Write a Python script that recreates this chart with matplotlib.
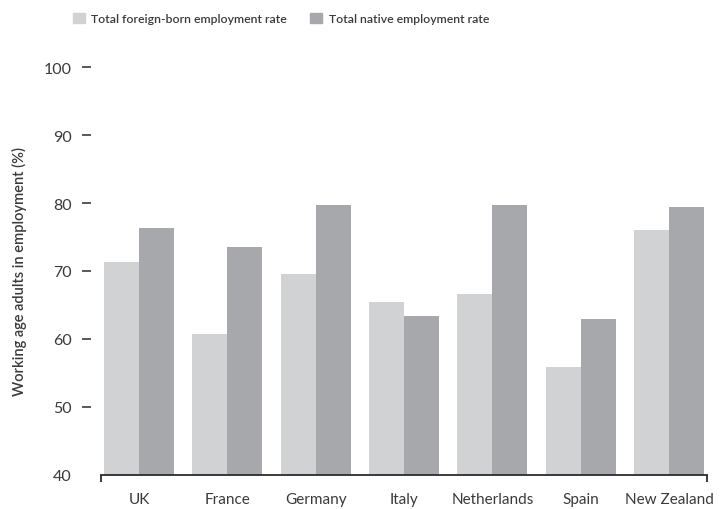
import matplotlib.pyplot as plt
import numpy as np
from matplotlib.patches import Patch

plt.rcParams['font.family'] = ['Lato', 'DejaVu Sans']

# employment rates, working age adults (%)
countries = ["UK", "France", "Germany", "Italy", "Netherlands", "Spain", "New Zealand"]
foreign_born = [71.3, 60.7, 69.5, 65.5, 66.6, 55.9, 76.0]
native = [76.3, 73.5, 79.7, 63.4, 79.7, 62.9, 79.4]
yticks = [40, 50, 60, 70, 80, 90, 100]

c_foreign = "#d1d2d4"
c_native = "#a7a8ab"
c_text = "#3a3a3a"

fig = plt.figure(figsize=(7.24, 5.10), dpi=100)
ax = fig.add_axes([101/724, 34/510, 606/724, 408/510])

x = np.arange(len(countries))
w = 0.396
ax.bar(x - w/2, foreign_born, w, bottom=0, color=c_foreign, linewidth=0)
ax.bar(x + w/2, native, w, bottom=0, color=c_native, linewidth=0)

ax.set_ylim(40, 100)
ax.set_xlim(-0.43, 6.43)

# y axis: floating dashes, no spine
ax.spines['left'].set_position(('outward', 7.5))
ax.spines['left'].set_visible(False)
for s in ['top', 'right']:
    ax.spines[s].set_visible(False)
ax.spines['bottom'].set_color("#2b2b2b")
ax.spines['bottom'].set_linewidth(1.3)

ax.set_yticks(yticks)
ax.tick_params(axis='y', length=6.5, width=1.1, color="#2b2b2b", pad=7,
               labelsize=11.5, labelcolor=c_text)
ax.yaxis.get_major_ticks()[0].tick1line.set_visible(False)

ax.set_xticks(x)
ax.set_xticklabels(countries)
ax.tick_params(axis='x', which='major', length=0, pad=12, labelsize=11, labelcolor=c_text)
ax.set_xticks([-0.43, 6.43], minor=True)
ax.tick_params(axis='x', which='minor', length=5, width=1.3, color="#2b2b2b")

ax.set_ylabel("Working age adults in employment (%)", fontsize=10.5, color=c_text,
              fontweight='semibold', labelpad=12)

handles = [Patch(color=c_foreign, label="Total foreign-born employment rate"),
           Patch(color=c_native, label="Total native employment rate")]
fig.legend(handles=handles, loc='upper left', bbox_to_anchor=(62/724, 0.995), ncol=2,
           frameon=False, handlelength=0.95, handleheight=0.95,
           handletextpad=0.55, columnspacing=1.9, labelcolor=c_text,
           prop={'weight': 'semibold', 'size': 8.8})

fig.savefig("out.png", dpi=100)
